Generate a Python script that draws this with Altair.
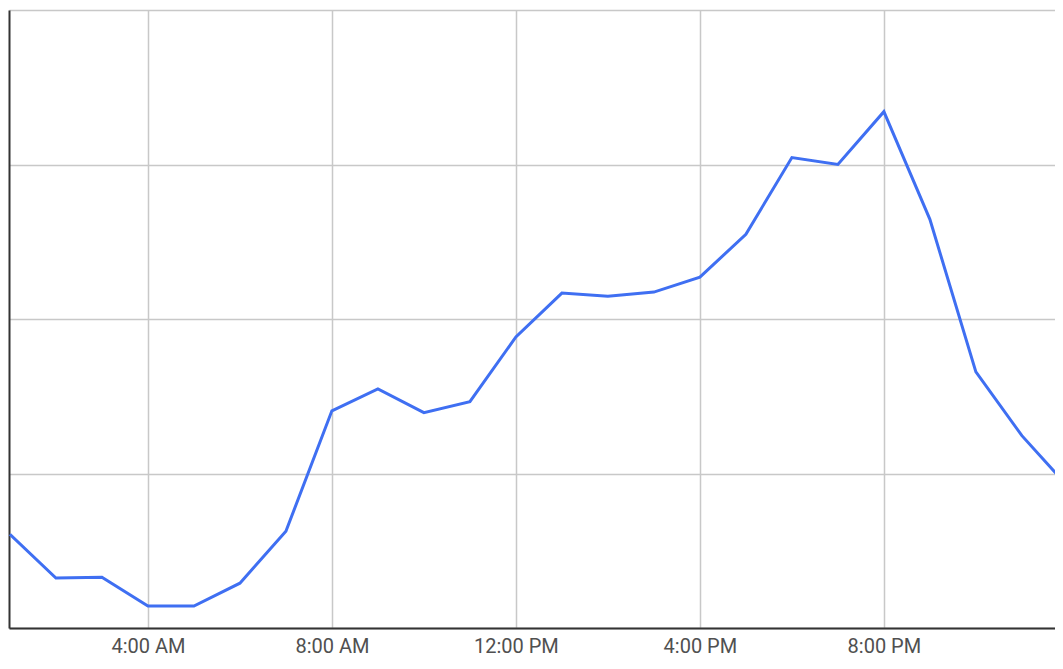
import altair as alt
import pandas as pd

hours = list(range(1, 25))
values = [0.606, 0.323, 0.329, 0.142, 0.142, 0.290, 0.626, 1.406, 1.548, 1.394,
          1.465, 1.884, 2.168, 2.148, 2.174, 2.271, 2.548, 3.045, 3.000, 3.342,
          2.645, 1.658, 1.245, 0.916]
tick_hours = [4, 8, 12, 16, 20]
tick_labels = ["4:00 AM", "8:00 AM", "12:00 PM", "4:00 PM", "8:00 PM"]
y_ticks = [0, 1, 2, 3, 4]

df = pd.DataFrame({"hour": hours, "value": values})

label_expr = "{" + ",".join(f"'{h}':'{l}'" for h, l in zip(tick_hours, tick_labels)) + "}[datum.value]"

chart = alt.Chart(df).mark_line(color="#3f6ff2", strokeWidth=3, clip=True).encode(
    x=alt.X("hour:Q",
            scale=alt.Scale(domain=[0.98, 23.72], nice=False, zero=False),
            axis=alt.Axis(values=tick_hours, labelExpr=label_expr, title=None,
                          ticks=False, labelPadding=8, labelFontSize=20,
                          labelColor="#505050", labelFont="Roboto",
                          grid=True, gridColor="#c8c8c8", gridWidth=1.5,
                          domainColor="#333333", domainWidth=2)),
    y=alt.Y("value:Q",
            scale=alt.Scale(domain=[0, 4], nice=False),
            axis=alt.Axis(values=y_ticks, labels=False, ticks=False, title=None,
                          grid=True, gridColor="#c8c8c8", gridWidth=1.5,
                          domainColor="#333333", domainWidth=2)),
).properties(
    width=1046, height=618,
    autosize=alt.AutoSizeParams(type="none"),
    padding={"left": 1, "top": 2, "right": 0, "bottom": 33},
).configure_view(stroke=None)

chart.save("out.html", embed_options={"renderer": "svg", "actions": False})
